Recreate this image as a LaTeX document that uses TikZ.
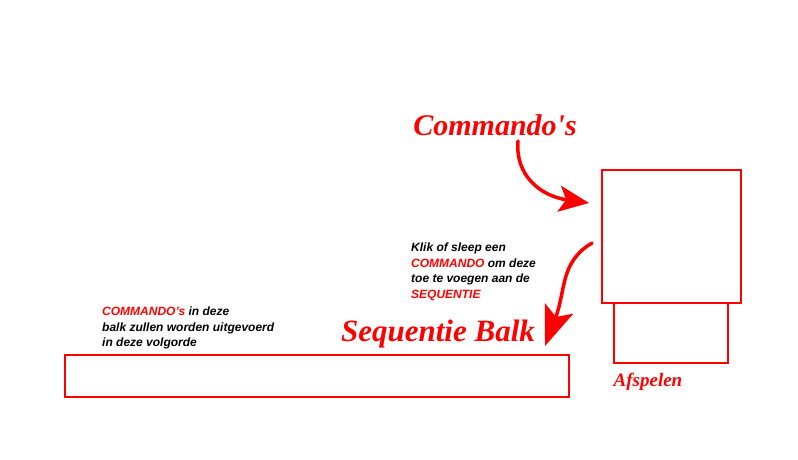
\documentclass[tikz,border=0pt]{standalone}
\usepackage{fontspec}
\setmainfont{Liberation Sans}
\newfontfamily\scriptfnt{Liberation Serif}
\usetikzlibrary{arrows.meta}
\definecolor{bred}{RGB}{255,0,0}
\tikzset{
  redbox/.style={draw=bred, line width=1.6pt},
  script/.style={text=bred, font=\scriptfnt\bfseries\itshape, inner sep=0pt},
  note/.style={font=\fontsize{12}{15.5}\selectfont\bfseries\itshape, align=left, anchor=north west, inner sep=0pt},
  brush/.style={draw=bred, line width=3.5pt, line cap=round},
}
\begin{document}
\begin{tikzpicture}[x=1pt,y=-1pt]
\useasboundingbox (0,0) rectangle (798,459);
\node[redbox, minimum width=139pt, minimum height=133pt, anchor=north west] (cmd) at (601,169) {};
\node[redbox, minimum width=114pt, minimum height=60pt, anchor=north west] (play) at (613,302) {};
\node[redbox, minimum width=504pt, minimum height=42pt, anchor=north west] (bar) at (64,354) {};
\node[script, font=\scriptfnt\bfseries\itshape\fontsize{30}{30}\selectfont] (cmdlbl) at (495,125) {Commando's};
\node[script, font=\scriptfnt\bfseries\itshape\fontsize{31}{31}\selectfont] (seqlbl) at (438,334) {Sequentie Balk};
\node[script, font=\scriptfnt\bfseries\itshape\fontsize{19}{19}\selectfont] (playlbl) at (648,382) {Afspelen};
\node[note] (klik) at (411,243) {Klik of sleep een\\\textcolor{bred}{COMMANDO} om deze\\toe te voegen aan de\\\textcolor{bred}{SEQUENTIE}};
\node[note] (seqnote) at (102,307) {\textcolor{bred}{COMMANDO's} in deze\\balk zullen worden uitgevoerd\\in deze volgorde};
\coordinate (a1s) at (518,141);
\coordinate (a1e) at (589,203);
\coordinate (a2s) at (592,243);
\coordinate (a2e) at (545,346);
\draw[brush, -{Stealth[length=30pt,width=26pt,inset=7pt]}] (a1s) .. controls (515,175) and (540,196) .. (a1e);
\draw[brush, -{Stealth[length=40pt,width=30pt,inset=9pt]}] (a2s) .. controls (560,262) and (566,290) .. (a2e);
\end{tikzpicture}
\end{document}
